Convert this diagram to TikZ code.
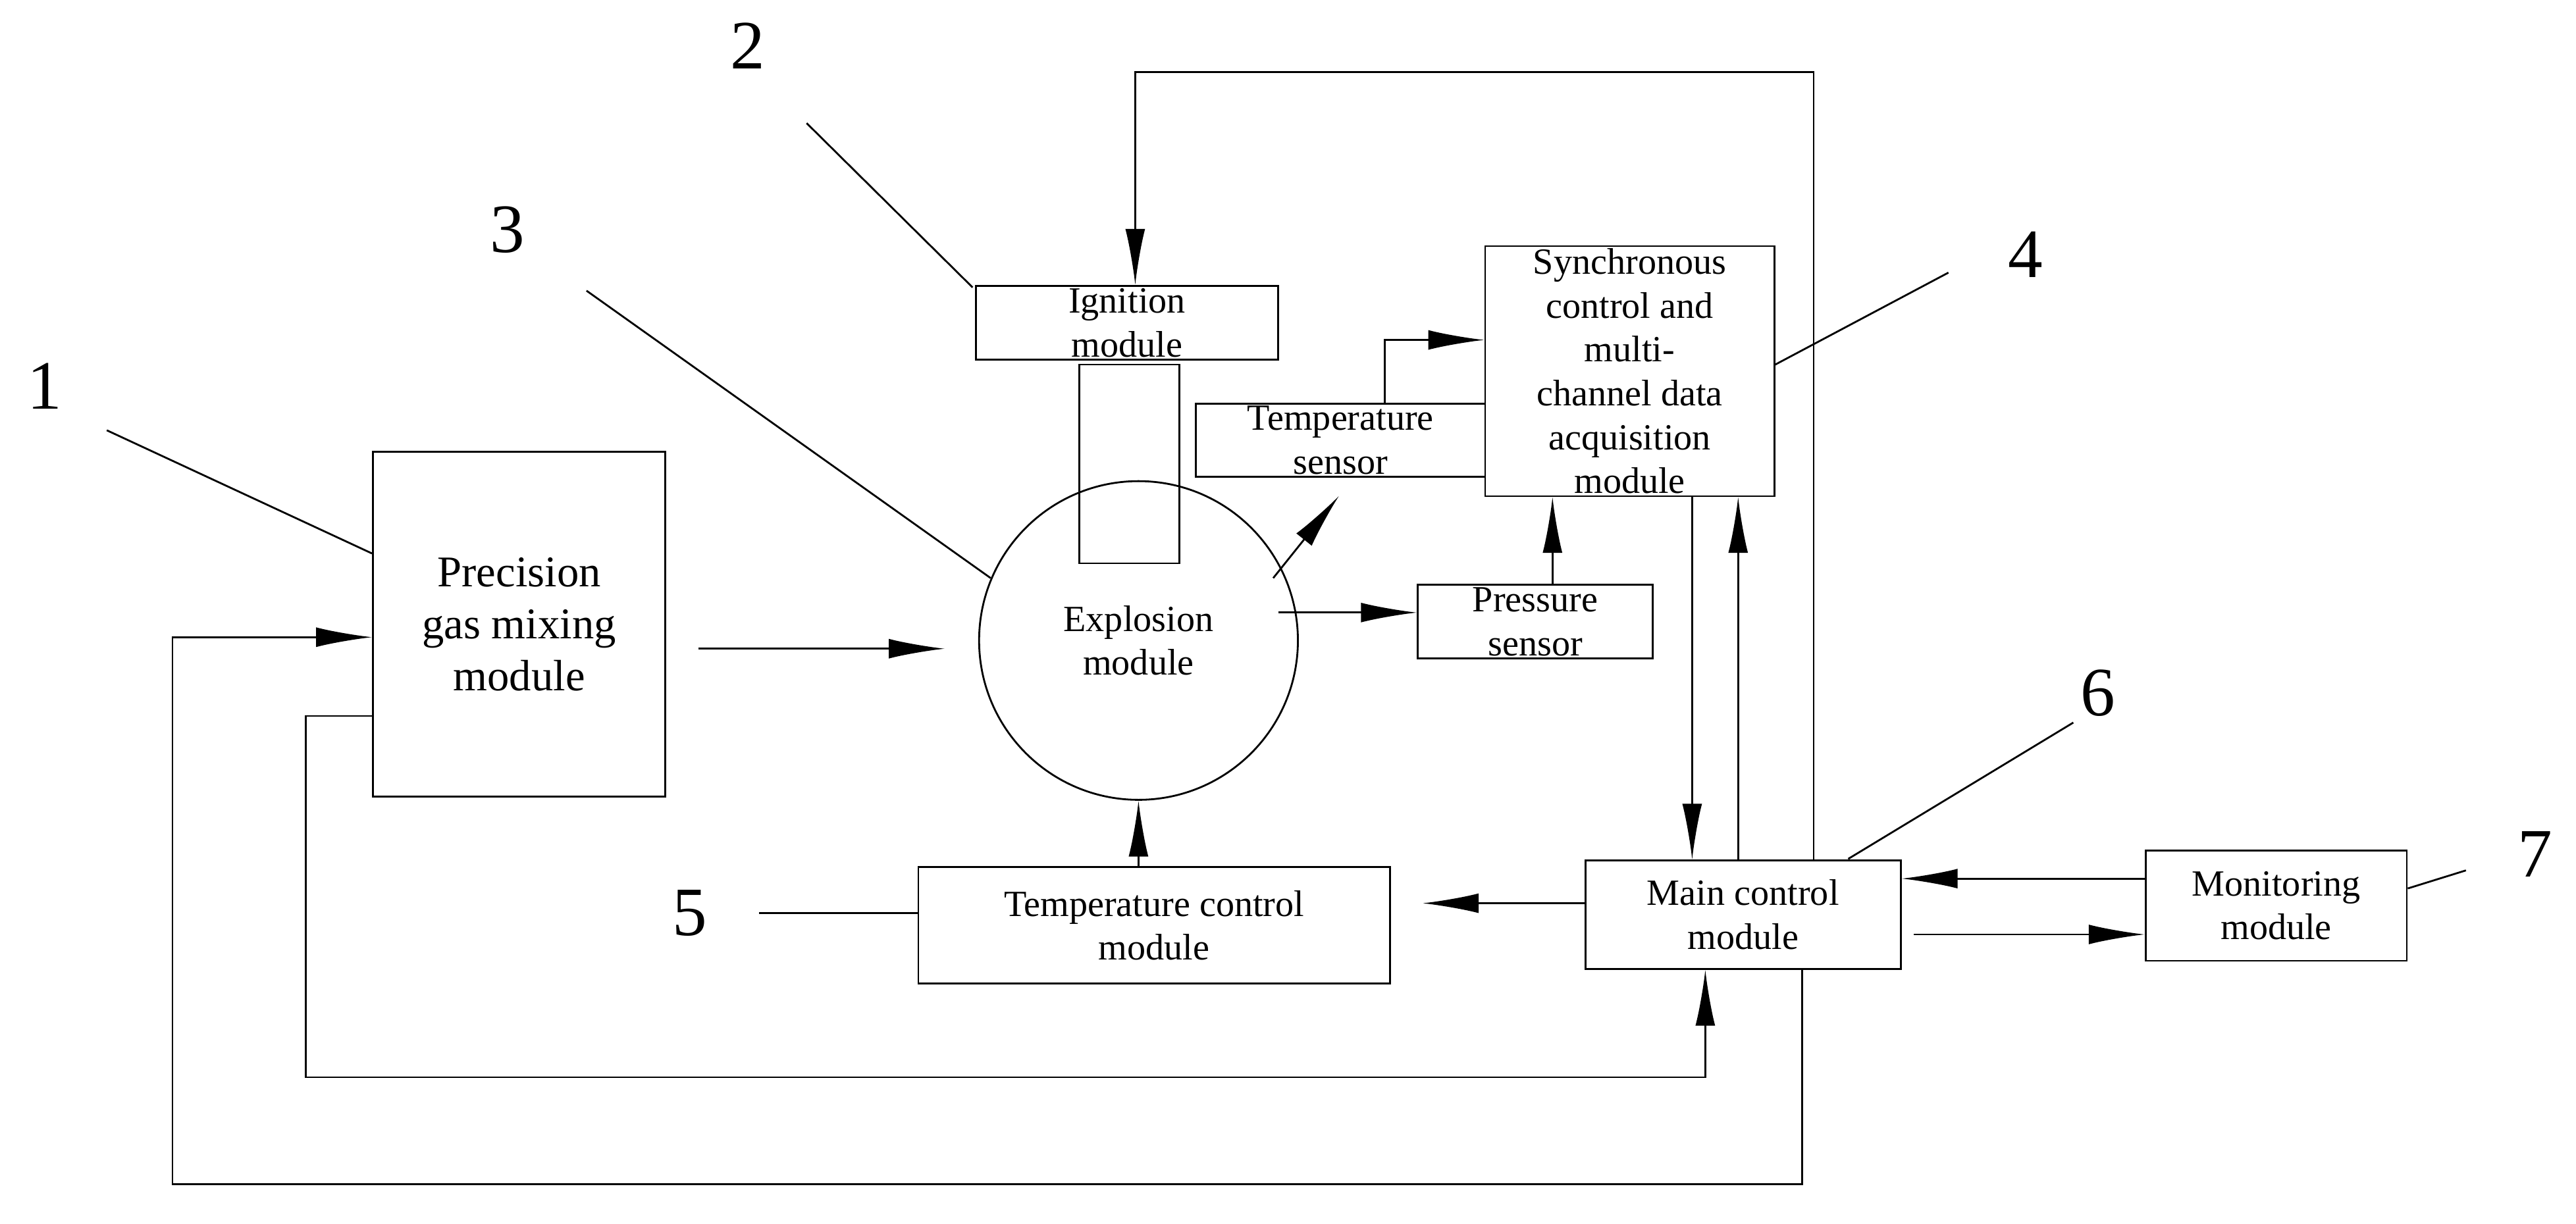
\documentclass[tikz,border=0pt]{standalone}
\usepackage{fontspec}
\setmainfont{Liberation Serif}
\usetikzlibrary{arrows.meta,calc}
\tikzstyle{blk} = [rectangle, draw, inner sep=1pt, align=center, font=\fontsize{16}{19}\selectfont]
\tikzstyle{num} = [font=\fontsize{30}{34}\selectfont]

\begin{document}
\begin{tikzpicture}[x=0.025cm,y=-0.025cm,line width=0.8pt,
                    >={Latex[length=0.85cm,width=0.3cm]}]
  \useasboundingbox (0,0) rectangle (1568,745);
  % modules
  \node[blk,minimum width=4.45cm,minimum height=5.25cm,font=\fontsize{19}{22.5}\selectfont] (gas) at (316,380) {Precision\\gas mixing\\module};
  \node[blk,minimum width=4.6cm,minimum height=1.125cm] (ign) at (686,196.5) {Ignition\\module};
  \node[rectangle,draw,minimum width=1.525cm,minimum height=3.025cm] (tube) at (687.5,282.5) {};
  \node[circle,draw,minimum size=4.85cm,align=center,font=\fontsize{16}{19}\selectfont] (exp) at (693,390) {Explosion\\module};
  \node[blk,minimum width=4.4cm,minimum height=1.1cm] (tsens) at (816,268) {Temperature\\sensor};
  \node[blk,minimum width=4.4cm,minimum height=3.75cm] (sync) at (992,226) {Synchronous\\control and\\multi-\\channel data\\acquisition\\module};
  \node[blk,minimum width=3.575cm,minimum height=1.125cm] (psens) at (934.5,378.5) {Pressure\\sensor};
  \node[blk,minimum width=7.175cm,minimum height=1.775cm] (tctrl) at (702.5,563.5) {Temperature control\\module};
  \node[blk,minimum width=4.8cm,minimum height=1.65cm] (main) at (1061,557) {Main control\\module};
  \node[blk,minimum width=3.975cm,minimum height=1.675cm] (mon) at (1385.5,551.5) {Monitoring\\module};

  % numbers
  \node[num] (n1) at (27,235) {1};
  \node[num] (n2) at (455,28) {2};
  \node[num] (n3) at (309,140) {3};
  \node[num] (n4) at (1233,155) {4};
  \node[num] (n5) at (420,556) {5};
  \node[num] (n6) at (1277,422) {6};
  \node[num] (n7) at (1543,520) {7};
  \draw (65,262) -- (gas.north west |- 0,337);
  \draw (491,75) -- (592,175);
  \draw (357,177) -- (603,352);
  \draw (1186,166) -- (sync.east |- 0,222);
  \draw (462,556) -- (tctrl.west |- 0,556);
  \draw (1262,440) -- (1125,523);
  \draw (1501,530) -- (mon.east |- 0,541);

  % connectors
  \draw[->] (425,395) -- (575,395);
  \draw[->] (778,373) -- (psens.west |- 0,373);
  \draw[->] (775,352) -- (815,302);
  \draw[->] (tsens.north -| 843,0) |- (sync.west |- 0,207);
  \draw[->] (psens.north -| 945,0) -- (sync.south -| 945,0);
  \draw[->] (sync.south -| 1030,0) -- (main.north -| 1030,0);
  \draw[->] (main.north -| 1058,0) -- (sync.south -| 1058,0);
  \draw[->] (main.west |- 0,550) -- (866,550);
  \draw[->] (tctrl.north -| exp.south) -- (exp.south);
  \draw[->] (main.north -| 1104,0) -- (1104,44) -| (ign.north -| 691,0);
  \draw[->] (mon.west |- 0,535) -- (main.east |- 0,535);
  \draw[->] (1165,569) -- (mon.west |- 0,569);
  \draw[->] (gas.west |- 0,436) -- (186,436) |- (1038,656) -- (main.south -| 1038,0);
  \draw[->] (main.south -| 1097,0) -- (1097,721) -| (105,388) -- (gas.west |- 0,388);
\end{tikzpicture}
\end{document}
